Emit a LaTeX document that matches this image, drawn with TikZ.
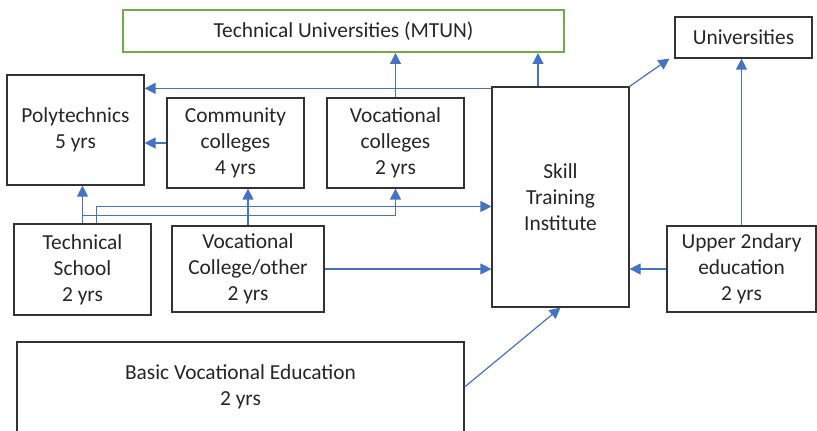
\documentclass[tikz,border=0pt]{standalone}
\usepackage{fontspec}
\setmainfont{Carlito}
\usepackage{xcolor}
\usepackage{tikz}
\usetikzlibrary{arrows.meta,positioning,calc}
\definecolor{ink}{HTML}{262626}
\definecolor{edge}{HTML}{333333}
\definecolor{flow}{HTML}{4472C4}
\definecolor{leaf}{HTML}{70AD47}
\tikzset{
  box/.style={draw=edge,fill=white,line width=0.6pt,inner sep=2pt,align=center,text=ink,font=\fontsize{10.7}{13}\selectfont},
  levelbox/.style={box,minimum width=#1*0.5pt},
  topbox/.style={box,draw=leaf,line width=1pt},
  arrow/.style={-{Triangle[length=5.5pt,width=5.5pt]},line width=0.6pt,color=flow},
}
\begin{document}
\begin{tikzpicture}[x=0.5pt,y=-0.5pt]
    \useasboundingbox (0,0) rectangle (817,431);
    \node[topbox,minimum width=220.5pt,minimum height=21pt] (mtun) at (343.5,31) {Technical Universities (MTUN)};
    \node[box,minimum width=68.5pt,minimum height=20.5pt] (uni) at (743.5,37.5) {Universities};
    \node[levelbox=137,minimum height=55pt] (poly) at (75.5,130) {Polytechnics\\5 yrs};
    \node[levelbox=137,minimum height=45pt] (comm) at (235.5,143) {Community\\colleges\\4 yrs};
    \node[levelbox=137,minimum height=45pt] (vocc) at (395.5,143) {Vocational\\colleges\\2 yrs};
    \node[levelbox=137,minimum height=110pt] (sti) at (560.5,197) {Skill\\Training\\Institute};
    \node[levelbox=137,minimum height=45.5pt] (tech) at (82.5,269.5) {Technical\\School\\2 yrs};
    \node[levelbox=152,minimum height=43pt] (voco) at (248,269) {Vocational\\College/other\\2 yrs};
    \node[levelbox=149,minimum height=43pt] (upper) at (741.5,269) {Upper 2ndary\\education\\2 yrs};
    \node[levelbox=447,minimum height=45pt] (basic) at (240.5,387) {Basic Vocational Education\\2 yrs};
    % upward routes
    \draw[arrow] ([xshift=-11.25pt]sti.north) -- ([xshift=-11.25pt]sti.north |- mtun.south);
    \draw[arrow] (vocc.north) -- (vocc.north |- mtun.south);
    \draw[arrow] ([yshift=-1pt]sti.north west) -- ([yshift=-1pt]sti.north west -| poly.east);
    \draw[arrow] (comm.west) -- (comm.west -| poly.east);
    \draw[arrow] (tech.north) -- (tech.north |- poly.south);
    \draw[arrow] (tech.north) -- ++(0,-8) -| (vocc.south);
    \draw[arrow] ([xshift=7pt]tech.north) |- ([yshift=-4.75pt]sti.west);
    \draw[arrow] (voco.north) -- (voco.north |- comm.south);
    \draw[arrow] (voco.east) -- (voco.east -| sti.west);
    \draw[arrow] (upper.west) -- (upper.west -| sti.east);
    \draw[arrow] (upper.north) -- (upper.north |- uni.south);
    \draw[arrow] (sti.north east) -- ([xshift=-2.5pt]uni.south west);
    \draw[arrow] (basic.east) -- (sti.south);
\end{tikzpicture}
\end{document}
